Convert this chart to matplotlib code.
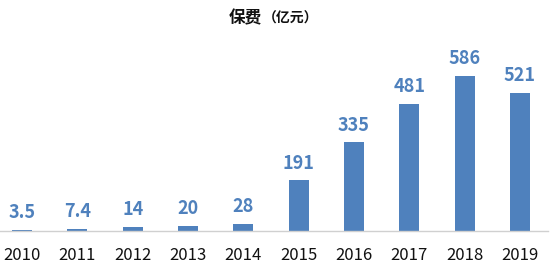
import matplotlib
matplotlib.use('Agg')
import matplotlib.pyplot as plt
import numpy as np

plt.rcParams['font.family'] = ['Noto Sans CJK SC', 'DejaVu Sans']

# premium data (100 million yuan)
years = ['2010', '2011', '2012', '2013', '2014', '2015', '2016', '2017', '2018', '2019']
premiums = [3.5, 7.4, 14, 20, 28, 191, 335, 481, 586, 521]
value_labels = ['3.5', '7.4', '14', '20', '28', '191', '335', '481', '586', '521']

blue = '#4f81bd'

fig = plt.figure(figsize=(5.5, 2.69), dpi=100)
ax = fig.add_axes([-0.0103, 0.1413, 1.006, 0.71])

x = np.arange(len(years))
ax.bar(x, premiums, width=0.36, color=blue)
for xi, v, lab in zip(x, premiums, value_labels):
    ax.annotate(lab, xy=(xi, v), xytext=(0, 8.5), textcoords='offset points',
                ha='center', va='baseline', fontsize=13, fontweight='bold', color=blue)

ax.set_xlim(-0.5, len(years) - 0.5)
ax.set_ylim(0, 722)
ax.set_xticks(x)
ax.set_xticklabels(years, fontsize=12, color='#111111')
ax.tick_params(axis='x', length=0, pad=11.5)
ax.set_yticks([])
for side in ['left', 'right', 'top']:
    ax.spines[side].set_visible(False)
ax.spines['bottom'].set_color('#d0d0d0')
ax.spines['bottom'].set_linewidth(1)

fig.text(262 / 550, 1 - 18 / 269, '保费', ha='right', va='center', fontsize=12, fontweight='bold', color='#111111')
fig.text(263 / 550, 1 - 19 / 269, '（亿元）', ha='left', va='center', fontsize=10, fontweight='bold', color='#111111')

fig.savefig('out.png', dpi=100)
